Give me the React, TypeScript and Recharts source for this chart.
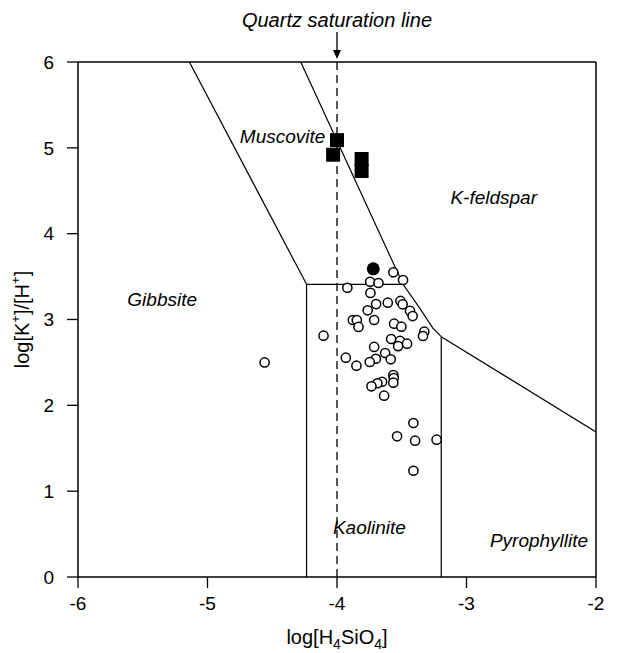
import React from "react";
import {
  ScatterChart,
  Scatter,
  XAxis,
  YAxis,
  ReferenceLine,
} from "recharts";

// log[H4SiO4] vs log[K+]/[H+] sample points
const squarePoints = [
  { x: -4.0, y: 5.09 },
  { x: -4.03, y: 4.92 },
  { x: -3.81, y: 4.87 },
  { x: -3.81, y: 4.73 },
];

const filledPoints = [{ x: -3.72, y: 3.59 }];

const openPoints = [
  { x: -3.565, y: 3.55 }, { x: -3.49, y: 3.46 }, { x: -3.744, y: 3.44 },
  { x: -3.68, y: 3.425 }, { x: -3.92, y: 3.37 }, { x: -3.742, y: 3.31 },
  { x: -3.698, y: 3.18 }, { x: -3.608, y: 3.196 }, { x: -3.51, y: 3.216 },
  { x: -3.493, y: 3.177 }, { x: -3.763, y: 3.107 }, { x: -3.436, y: 3.1 },
  { x: -3.416, y: 3.04 }, { x: -3.878, y: 2.994 }, { x: -3.847, y: 2.994 },
  { x: -3.834, y: 2.913 }, { x: -3.713, y: 2.994 }, { x: -3.559, y: 2.951 },
  { x: -3.503, y: 2.916 }, { x: -3.326, y: 2.858 }, { x: -3.336, y: 2.808 },
  { x: -4.104, y: 2.811 }, { x: -3.582, y: 2.773 }, { x: -3.513, y: 2.75 },
  { x: -3.528, y: 2.69 }, { x: -3.459, y: 2.718 }, { x: -3.713, y: 2.68 },
  { x: -3.628, y: 2.61 }, { x: -3.932, y: 2.555 }, { x: -3.585, y: 2.536 },
  { x: -3.7, y: 2.543 }, { x: -3.747, y: 2.505 }, { x: -3.85, y: 2.462 },
  { x: -3.565, y: 2.353 }, { x: -3.562, y: 2.318 }, { x: -3.565, y: 2.264 },
  { x: -3.652, y: 2.275 }, { x: -3.688, y: 2.257 }, { x: -3.734, y: 2.222 },
  { x: -3.636, y: 2.112 }, { x: -3.41, y: 1.794 }, { x: -3.536, y: 1.639 },
  { x: -3.397, y: 1.588 }, { x: -3.231, y: 1.6 }, { x: -3.41, y: 1.238 },
  { x: -4.559, y: 2.5 },
];

// stability field boundaries
const gibbsiteMuscovite = [{ x: -5.14, y: 6 }, { x: -4.235, y: 3.41 }];
const gibbsiteKaolinite = [{ x: -4.235, y: 3.41 }, { x: -4.235, y: 0 }];
const muscoviteKaolinite = [{ x: -4.235, y: 3.41 }, { x: -3.49, y: 3.41 }];
const muscoviteKfeldspar = [
  { x: -4.28, y: 6 },
  { x: -3.49, y: 3.41 },
  { x: -3.36, y: 3.13 },
  { x: -3.26, y: 2.9 },
  { x: -3.195, y: 2.8 },
];
const kaolinitePyrophyllite = [{ x: -3.195, y: 2.8 }, { x: -3.195, y: 0 }];
const kfeldsparPyrophyllite = [{ x: -3.195, y: 2.8 }, { x: -2, y: 1.69 }];

const fieldLabels = [
  { x: -4.42, y: 5.13, name: "Muscovite" },
  { x: -2.79, y: 4.42, name: "K-feldspar" },
  { x: -5.35, y: 3.23, name: "Gibbsite" },
  { x: -3.75, y: 0.58, name: "Kaolinite" },
  { x: -2.44, y: 0.43, name: "Pyrophyllite" },
];

const xTicks = [-6, -5, -4, -3, -2];
const yTicks = [0, 1, 2, 3, 4, 5, 6];

const FONT = "'Liberation Sans', Arial, sans-serif";
const boundaries = [
  gibbsiteMuscovite,
  gibbsiteKaolinite,
  muscoviteKaolinite,
  muscoviteKfeldspar,
  kaolinitePyrophyllite,
  kfeldsparPyrophyllite,
];

const NoShape = () => <g />;

const OpenCircle = (props: any) => (
  <circle cx={props.cx} cy={props.cy} r={4.6} fill="#fff" stroke="#000" strokeWidth={1.5} />
);

const FilledCircle = (props: any) => (
  <circle cx={props.cx} cy={props.cy} r={6.5} fill="#000" />
);

const Square = (props: any) => (
  <rect x={props.cx - 7} y={props.cy - 7} width={14} height={14} fill="#000" />
);

const FieldLabel = (props: any) => (
  <text
    x={props.cx}
    y={props.cy}
    textAnchor="middle"
    dominantBaseline="central"
    fontSize={19}
    fontStyle="italic"
    fontFamily={FONT}
    fill="#000"
  >
    {props.payload.name}
  </text>
);

const QuartzLabel = (props: any) => {
  const vb = props.viewBox || {};
  const x = vb.x;
  const top = Math.min(vb.y, vb.y + (vb.height || 0));
  return (
    <g>
      <line x1={x} y1={top - 30} x2={x} y2={top - 10} stroke="#000" strokeWidth={1.3} />
      <polygon
        points={`${x - 4},${top - 12} ${x + 4},${top - 12} ${x},${top - 3}`}
        fill="#000"
      />
      <text
        x={x}
        y={top - 35}
        textAnchor="middle"
        fontSize={20}
        fontStyle="italic"
        fontFamily={FONT}
        fill="#000"
      >
        Quartz saturation line
      </text>
    </g>
  );
};

const XTitle = (props: any) => {
  const vb = props.viewBox || {};
  return (
    <text
      x={vb.x + vb.width / 2}
      y={vb.y + 67}
      textAnchor="middle"
      fontSize={20}
      fontFamily={FONT}
      fill="#000"
    >
      log[H
      <tspan dy={5} fontSize={14}>4</tspan>
      <tspan dy={-5}>SiO</tspan>
      <tspan dy={5} fontSize={14}>4</tspan>
      <tspan dy={-5}>]</tspan>
    </text>
  );
};

const YTitle = (props: any) => {
  const vb = props.viewBox || {};
  const cx = 22;
  const cy = vb.y + vb.height / 2;
  return (
    <text
      x={cx}
      y={cy}
      transform={`rotate(-90, ${cx}, ${cy})`}
      textAnchor="middle"
      dominantBaseline="central"
      fontSize={20}
      fontFamily={FONT}
      fill="#000"
    >
      log[K
      <tspan dy={-7} fontSize={13}>+</tspan>
      <tspan dy={7}>]/[H</tspan>
      <tspan dy={-7} fontSize={13}>+</tspan>
      <tspan dy={7}>]</tspan>
    </text>
  );
};

export default function App() {
  return (
    <div style={{ position: "absolute", left: 0, top: 0, background: "#fff" }}>
      <ScatterChart
        width={617}
        height={653}
        margin={{ top: 62, right: 21, bottom: 0, left: 0 }}
      >
        <XAxis
          type="number"
          dataKey="x"
          domain={[-6, -2]}
          ticks={xTicks}
          allowDataOverflow
          height={76}
          stroke="#000"
          axisLine={{ stroke: "#000", strokeWidth: 1.5 }}
          tickLine={{ stroke: "#000", strokeWidth: 1.3 }}
          tickSize={11}
          tickMargin={9}
          tick={{ fontSize: 19, fill: "#000", fontFamily: FONT }}
          label={{ content: XTitle }}
        />
        <YAxis
          type="number"
          dataKey="y"
          domain={[0, 6]}
          ticks={yTicks}
          allowDataOverflow
          width={78}
          stroke="#000"
          axisLine={{ stroke: "#000", strokeWidth: 1.5 }}
          tickLine={{ stroke: "#000", strokeWidth: 1.3 }}
          tickSize={11}
          tickMargin={13}
          tick={{ fontSize: 19, fill: "#000", fontFamily: FONT }}
          label={{ content: YTitle }}
        />
        <ReferenceLine y={6} stroke="#000" strokeWidth={1.5} />
        <ReferenceLine x={-2} stroke="#000" strokeWidth={1.5} />
        <ReferenceLine
          x={-4}
          stroke="#000"
          strokeWidth={1.3}
          strokeDasharray="8 5"
          label={{ content: QuartzLabel }}
        />
        {boundaries.map((seg, i) => (
          <Scatter
            key={i}
            data={seg}
            line={{ stroke: "#000", strokeWidth: 1.2 }}
            lineType="joint"
            shape={NoShape}
            isAnimationActive={false}
          />
        ))}
        <Scatter data={fieldLabels} shape={FieldLabel} isAnimationActive={false} />
        <Scatter data={openPoints} shape={OpenCircle} isAnimationActive={false} />
        <Scatter data={squarePoints} shape={Square} isAnimationActive={false} />
        <Scatter data={filledPoints} shape={FilledCircle} isAnimationActive={false} />
      </ScatterChart>
    </div>
  );
}
